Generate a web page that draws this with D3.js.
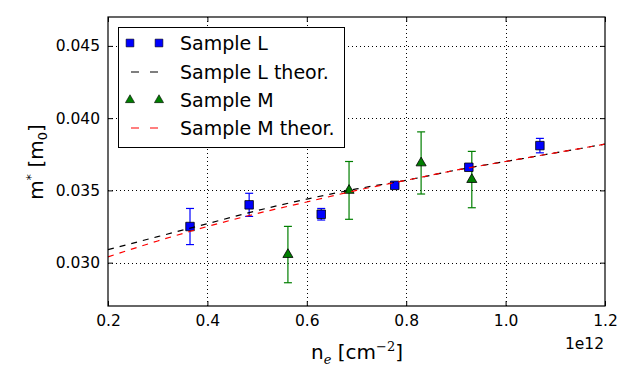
<!DOCTYPE html>
<html><head><meta charset="utf-8">
<script src="https://cdn.jsdelivr.net/npm/d3@7"></script>
<style>body{margin:0;background:#fff;} text{font-family:"DejaVu Sans",sans-serif;}</style>
</head><body><svg id="c" width="636" height="383"></svg>
<script>
// Data (x in units of 1e12 cm^-2, m* in m0)
const sampleL_x = [0.365, 0.484, 0.629, 0.777, 0.926, 1.069];
const sampleL_y = [0.0325, 0.0340, 0.03335, 0.03535, 0.0366, 0.0381];
const sampleL_err = [0.00125, 0.0008, 0.0004, 0.0002, 0.0002, 0.0005];
const sampleM_x = [0.562, 0.685, 0.830, 0.932];
const sampleM_y = [0.03056, 0.0350, 0.0369, 0.03575];
const sampleM_err = [0.00195, 0.0020, 0.00215, 0.00195];
const theoryX = [0.2, 0.3, 0.4, 0.5, 0.6, 0.7, 0.8, 0.9, 1.0, 1.1, 1.2];
const theoryL = [0.0309, 0.0318, 0.0327, 0.0336, 0.0344, 0.0351, 0.0357, 0.0364, 0.0370, 0.0376, 0.0382];
const theoryM = [0.0304, 0.0315, 0.0325, 0.0334, 0.0342, 0.0350, 0.0357, 0.0364, 0.0370, 0.0376, 0.0382];
const xTicks = [0.2, 0.4, 0.6, 0.8, 1.0, 1.2];
const yTicks = [0.030, 0.035, 0.040, 0.045];
const legendLabels = ["Sample L", "Sample L theor.", "Sample M", "Sample M theor."];

const svg = d3.select("#c");
svg.append("rect").attr("width",636).attr("height",383).attr("fill","#fff");
const L=108, R=605, T=17, B=306;
const x = d3.scaleLinear().domain([0.2,1.2]).range([L,R]);
const y = d3.scaleLinear().domain([0.027,0.047]).range([B,T]);

// grid
const g = svg.append("g");
g.selectAll(".gx").data(xTicks.slice(1,-1)).join("line")
 .attr("x1",d=>Math.round(x(d))+0.5).attr("x2",d=>Math.round(x(d))+0.5).attr("y1",T).attr("y2",B)
 .attr("stroke","#000").attr("stroke-width",1).attr("stroke-dasharray","1,3");
g.selectAll(".gy").data(yTicks).join("line")
 .attr("y1",d=>Math.round(y(d))+0.5).attr("y2",d=>Math.round(y(d))+0.5).attr("x1",L).attr("x2",R)
 .attr("stroke","#000").attr("stroke-width",1).attr("stroke-dasharray","1,3");

// error bars
function errBars(xs, ys, es, color){
  const eg = svg.append("g").attr("stroke",color).attr("stroke-width",1.2);
  xs.forEach((xv,i)=>{
    const cx=x(xv), y1=y(ys[i]-es[i]), y2=y(ys[i]+es[i]);
    eg.append("line").attr("x1",cx).attr("x2",cx).attr("y1",y1).attr("y2",y2);
    eg.append("line").attr("x1",cx-4).attr("x2",cx+4).attr("y1",y1).attr("y2",y1);
    eg.append("line").attr("x1",cx-4).attr("x2",cx+4).attr("y1",y2).attr("y2",y2);
  });
}
errBars(sampleL_x, sampleL_y, sampleL_err, "#00f");
errBars(sampleM_x, sampleM_y, sampleM_err, "#007f00");

const sq = d3.symbol().type(d3.symbolSquare).size(72);
const tri = d3.symbol().type(d3.symbolTriangle).size(44);
svg.append("g").selectAll("path").data(sampleL_x).join("path")
 .attr("d",sq).attr("transform",(d,i)=>`translate(${x(d)},${y(sampleL_y[i])})`)
 .attr("fill","#00f").attr("stroke","#000").attr("stroke-width",0.8);
svg.append("g").selectAll("path").data(sampleM_x).join("path")
 .attr("d",tri).attr("transform",(d,i)=>`translate(${x(d)},${y(sampleM_y[i])})`)
 .attr("fill","#007f00").attr("stroke","#000").attr("stroke-width",0.8);

// theory lines (drawn on top of markers)
const line = d3.line().x(d=>x(d[0])).y(d=>y(d[1])).curve(d3.curveMonotoneX);
svg.append("path").attr("d",line(theoryX.map((v,i)=>[v,theoryL[i]])))
 .attr("fill","none").attr("stroke","#000").attr("stroke-width",1.2).attr("stroke-dasharray","6,6");
svg.append("path").attr("d",line(theoryX.map((v,i)=>[v,theoryM[i]])))
 .attr("fill","none").attr("stroke","#f00").attr("stroke-width",1.2).attr("stroke-dasharray","6,6");

// axes (inward ticks on all sides)
const fs = "15.5px";
const ax = svg.append("g").attr("transform",`translate(0,${B})`)
 .call(d3.axisBottom(x).tickValues(xTicks).tickSize(-5).tickPadding(9).tickFormat(d3.format(".1f")));
const axT = svg.append("g").attr("transform",`translate(0,${T})`)
 .call(d3.axisTop(x).tickValues(xTicks).tickSize(-5).tickFormat(""));
const ay = svg.append("g").attr("transform",`translate(${L},0)`)
 .call(d3.axisLeft(y).tickValues(yTicks).tickSize(-5).tickPadding(8).tickFormat(d3.format(".3f")));
const ayR = svg.append("g").attr("transform",`translate(${R},0)`)
 .call(d3.axisRight(y).tickValues(yTicks).tickSize(-5).tickFormat(""));
[ax,axT,ay,ayR].forEach(a=>{a.select(".domain").remove(); a.selectAll("line").attr("stroke","#000");
  a.selectAll("text").attr("font-size",fs).attr("font-family","DejaVu Sans").attr("fill","#000");});
svg.append("rect").attr("x",L).attr("y",T).attr("width",R-L).attr("height",B-T)
 .attr("fill","none").attr("stroke","#000").attr("stroke-width",1.2);

// offset text
svg.append("text").attr("x",604).attr("y",349).attr("text-anchor","end").attr("font-size",fs).text("1e12");

// x label
const xl = svg.append("text").attr("x",357).attr("y",359).attr("text-anchor","middle").attr("font-size","20px");
xl.append("tspan").text("n");
xl.append("tspan").attr("font-size","13px").attr("font-style","italic").attr("font-family","DejaVu Serif").attr("dy",5).text("e");
xl.append("tspan").attr("dy",-5).text(" [cm");
xl.append("tspan").attr("font-size","13px").attr("font-family","DejaVu Serif").attr("dy",-8).text("−2");
xl.append("tspan").attr("dy",8).text("]");

// y label
const yl = svg.append("text").attr("transform","translate(43,162) rotate(-90)").attr("text-anchor","middle").attr("font-size","20px");
yl.append("tspan").text("m");
yl.append("tspan").attr("font-size","13px").attr("dy",-8).text("*");
yl.append("tspan").attr("dy",8).text(" [m");
yl.append("tspan").attr("font-size","13px").attr("dy",4).text("0");
yl.append("tspan").attr("dy",-4).text("]");

// legend
const lg = svg.append("g");
lg.append("rect").attr("x",118.5).attr("y",27.5).attr("width",226).attr("height",120)
 .attr("fill","#fff").attr("stroke","#000").attr("stroke-width",1);
const rowY = [43, 72, 100, 128];
legendLabels.forEach((lab,i)=>{
  const yy=rowY[i];
  if(i===0){[130,159].forEach(px=>lg.append("path").attr("d",d3.symbol().type(d3.symbolSquare).size(60)).attr("transform",`translate(${px},${yy})`).attr("fill","#00f").attr("stroke","#000").attr("stroke-width",0.6));}
  if(i===2){[130,159].forEach(px=>lg.append("path").attr("d",d3.symbol().type(d3.symbolTriangle).size(36)).attr("transform",`translate(${px},${yy})`).attr("fill","#007f00").attr("stroke","#000").attr("stroke-width",0.6));}
  if(i===1||i===3){lg.append("line").attr("x1",131).attr("x2",158).attr("y1",yy).attr("y2",yy)
     .attr("stroke",i===1?"#000":"#f00").attr("stroke-width",1.2).attr("stroke-dasharray","8,11");}
  lg.append("text").attr("x",180).attr("y",yy).attr("dy","0.35em").attr("font-size","19px").text(lab);
});
</script></body></html>
